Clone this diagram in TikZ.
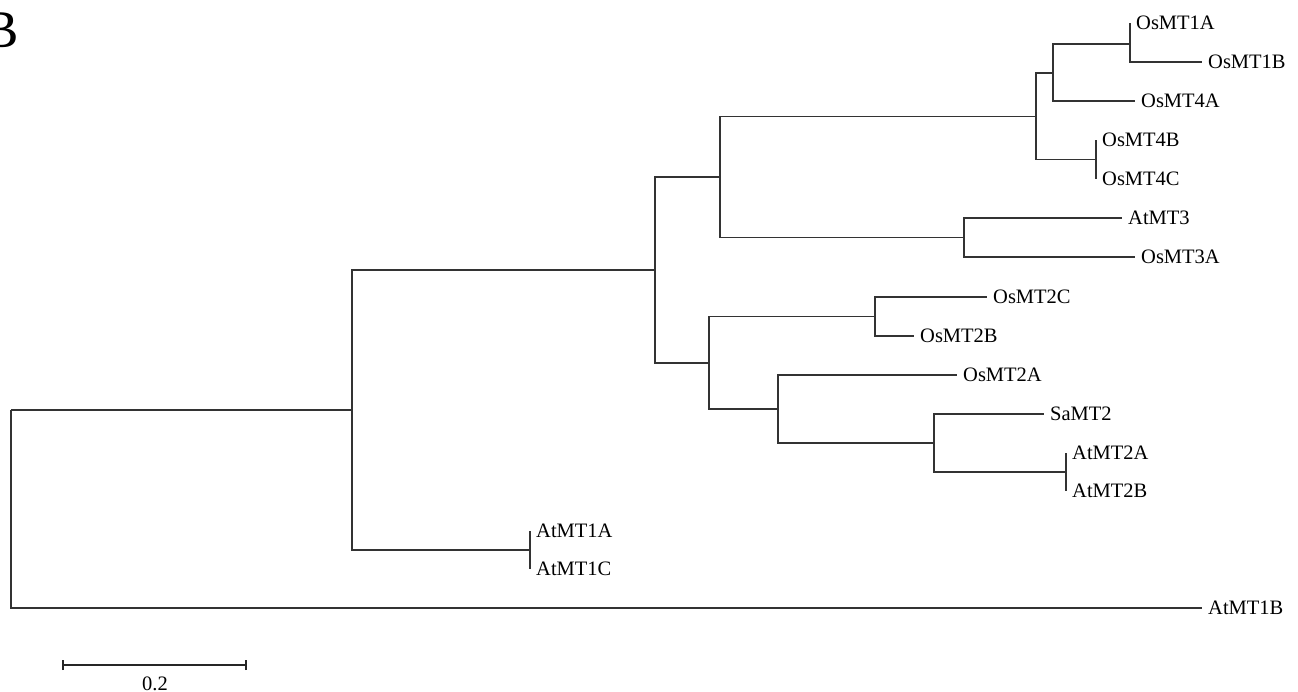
\documentclass[tikz,border=0pt]{standalone}
\usepackage{fontspec}
\setmainfont{Liberation Serif}
\begin{document}
\begin{tikzpicture}[x=1pt,y=-1pt,
  branch/.style={draw=black!80,line width=1.1pt},
  leaf/.style={anchor=west,inner xsep=6pt,inner ysep=0pt,font=\fontsize{20.5}{24}\selectfont},
  barline/.style={draw=black!85,line width=2.2pt}]
\useasboundingbox (0,0) rectangle (1298,691);
% panel letter
\node[anchor=base east,inner sep=0pt,font=\fontsize{53}{60}\selectfont] (panel) at (19,47) {B};
% internal nodes
\coordinate (root) at (11,410);
\coordinate (A) at (352,410);
\coordinate (B) at (655,270);
\coordinate (C) at (530,550);
\coordinate (D) at (720,177);
\coordinate (E) at (709,363);
\coordinate (F) at (1036,116.5);
\coordinate (G) at (964,237.5);
\coordinate (H) at (1053,73);
\coordinate (I) at (1096,159.5);
\coordinate (J) at (1130,44);
\coordinate (K) at (875,316.5);
\coordinate (L) at (778,409);
\coordinate (M) at (934,443);
\coordinate (N) at (1066,472);
% leaves
\node[leaf] (osmt1a) at (1130,23) {OsMT1A};
\node[leaf] (osmt1b) at (1202,62) {OsMT1B};
\node[leaf] (osmt4a) at (1135,101) {OsMT4A};
\node[leaf] (osmt4b) at (1096,140) {OsMT4B};
\node[leaf] (osmt4c) at (1096,179) {OsMT4C};
\node[leaf] (atmt3) at (1122,218) {AtMT3};
\node[leaf] (osmt3a) at (1135,257) {OsMT3A};
\node[leaf] (osmt2c) at (987,297) {OsMT2C};
\node[leaf] (osmt2b) at (914,336) {OsMT2B};
\node[leaf] (osmt2a) at (957,375) {OsMT2A};
\node[leaf] (samt2) at (1044,414) {SaMT2};
\node[leaf] (atmt2a) at (1066,453) {AtMT2A};
\node[leaf] (atmt2b) at (1066,491) {AtMT2B};
\node[leaf] (atmt1a) at (530,531) {AtMT1A};
\node[leaf] (atmt1c) at (530,569) {AtMT1C};
\node[leaf] (atmt1b) at (1202,608) {AtMT1B};
% branches
\path[branch] (root) |- (A) (root) |- (atmt1b.west);
\path[branch] (A) |- (B) (A) |- (C);
\path[branch] (C) |- (atmt1a.west) (C) |- (atmt1c.west);
\path[branch] (B) |- (D) (B) |- (E);
\path[branch] (D) |- (F) (D) |- (G);
\path[branch] (F) |- (H) (F) |- (I);
\path[branch] (H) |- (J) (H) |- (osmt4a.west);
\path[branch] (J) |- (osmt1a.west) (J) |- (osmt1b.west);
\path[branch] (I) |- (osmt4b.west) (I) |- (osmt4c.west);
\path[branch] (G) |- (atmt3.west) (G) |- (osmt3a.west);
\path[branch] (E) |- (K) (E) |- (L);
\path[branch] (K) |- (osmt2c.west) (K) |- (osmt2b.west);
\path[branch] (L) |- (osmt2a.west) (L) |- (M);
\path[branch] (M) |- (samt2.west) (M) |- (N);
\path[branch] (N) |- (atmt2a.west) (N) |- (atmt2b.west);
% scale bar
\coordinate (s1) at (63,665);
\coordinate (s2) at (246,665);
\path[barline] (s1) -- (s2);
\path[draw=black!85,line width=1.8pt] ([yshift=-5]s1) -- ([yshift=5]s1) ([yshift=-5]s2) -- ([yshift=5]s2);
\node[inner sep=0pt,font=\fontsize{20.5}{24}\selectfont] (scalelbl) at (155,684) {0.2};
\end{tikzpicture}
\end{document}
